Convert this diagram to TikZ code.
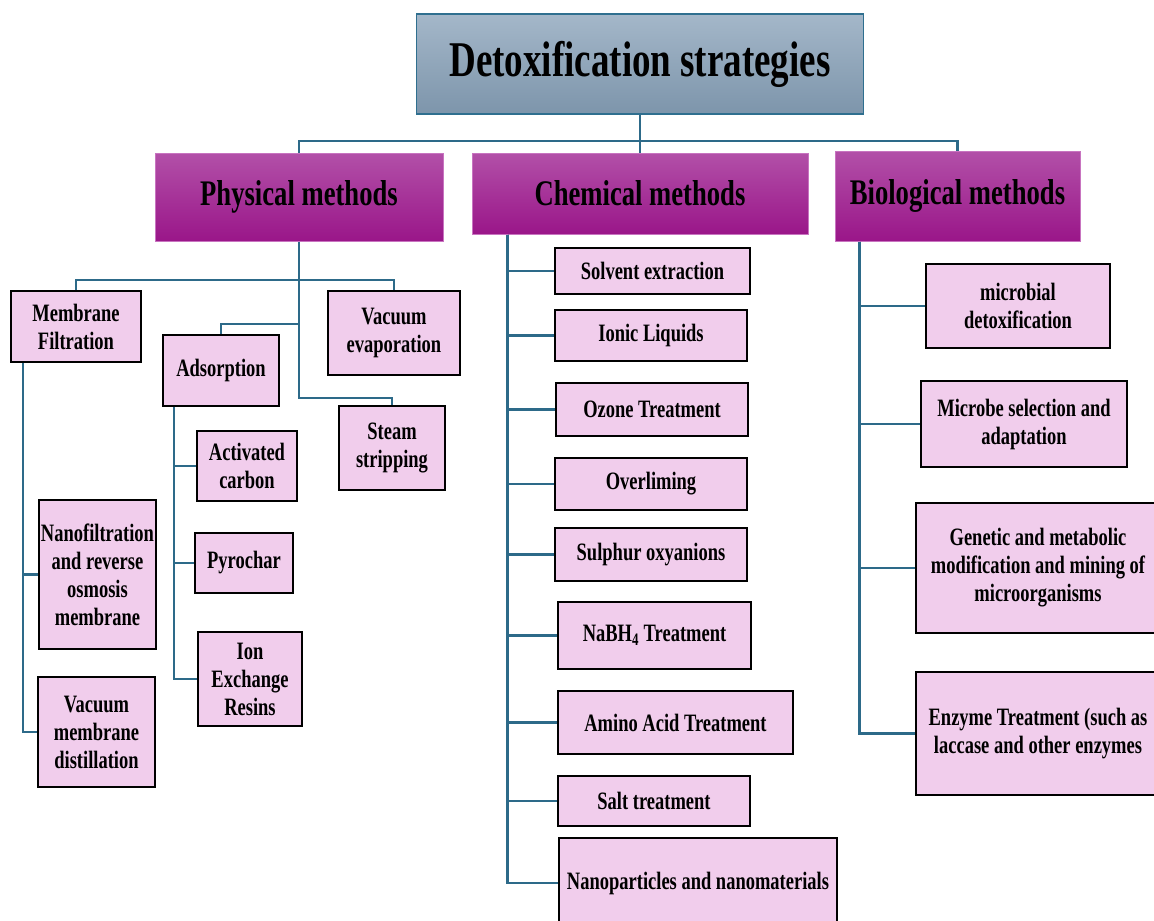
\documentclass[tikz,border=0pt]{standalone}
\usepackage{fontspec}
\setmainfont{Liberation Serif}[FakeStretch=0.74]
\definecolor{titletop}{HTML}{A4B7C9}
\definecolor{titlebot}{HTML}{7D95AB}
\definecolor{titleedge}{HTML}{2F6F8F}
\definecolor{headtop}{HTML}{B250A8}
\definecolor{headbot}{HTML}{9A1689}
\definecolor{headedge}{HTML}{C874C0}
\definecolor{itemfill}{HTML}{F1CDEC}
\definecolor{connblue}{HTML}{2D6A89}
\tikzset{
  conn/.style={draw=connblue, line width=2.6pt},
  boxsize/.style 2 args={minimum width=#1pt, minimum height=#2pt}
}
\begin{document}
\begin{tikzpicture}[x=1pt,y=-1pt]
  \useasboundingbox (0,0) rectangle (1154,921);
  \clip (0,0) rectangle (1154,921);

  % root
  \node[draw=titleedge, line width=1.3pt, top color=titletop, bottom color=titlebot,
        boxsize={447}{100}, font=\bfseries\fontsize{50}{56}\selectfont] (title) at (640,64) {Detoxification strategies};

  % method groups
  \begin{scope}[every node/.style={draw=headedge, line width=1pt, top color=headtop, bottom color=headbot,
                inner sep=0pt, font=\bfseries\fontsize{36}{40}\selectfont}]
    \node[boxsize={288}{88}] (phys) at (299,197)   {Physical methods};
    \node[boxsize={336}{81}] (chem) at (640,193.5) {Chemical methods};
    \node[boxsize={245}{90}] (bio)  at (957.5,196) {Biological methods};
  \end{scope}

  % individual techniques
  \begin{scope}[every node/.style={draw=black, line width=1.8pt, fill=itemfill, align=center,
                inner sep=0pt, font=\bfseries\fontsize{25}{28}\selectfont}]
    % physical
    \node[boxsize={130}{71}]  (memb)    at (76,326.5)  {Membrane\\Filtration};
    \node[boxsize={132}{84}]  (vacevap) at (394,333)   {Vacuum\\evaporation};
    \node[boxsize={116}{71}]  (ads)     at (221,370.5) {Adsorption};
    \node[boxsize={106}{84}]  (steam)   at (392,448)   {Steam\\stripping};
    \node[boxsize={100}{70}]  (actc)    at (247,466)   {Activated\\carbon};
    \node[boxsize={98}{60}]   (pyro)    at (244,563)   {Pyrochar};
    \node[boxsize={104}{94}]  (ionex)   at (250,679)   {Ion\\Exchange\\Resins};
    \node[boxsize={117}{149}] (nanof)   at (97.5,574.5) {Nanofiltration\\and reverse\\osmosis\\membrane};
    \node[boxsize={117}{110}] (vmd)     at (96.5,732)  {Vacuum\\membrane\\distillation};
    % chemical
    \node[boxsize={195}{46}]  (solv)  at (652.5,271)   {Solvent extraction};
    \node[boxsize={192}{51}]  (ionic) at (651,335.5)   {Ionic Liquids};
    \node[boxsize={192}{53}]  (ozone) at (652,409.5)   {Ozone Treatment};
    \node[boxsize={192}{52}]  (overl) at (651,484)     {Overliming};
    \node[boxsize={192}{53}]  (sulph) at (651,554.5)   {Sulphur oxyanions};
    \node[boxsize={193}{67}]  (nabh)  at (654.5,635.5) {NaBH\textsubscript{4} Treatment};
    \node[boxsize={235}{63}]  (amino) at (675.5,722.5) {Amino Acid Treatment};
    \node[boxsize={192}{50}]  (salt)  at (654,801)     {Salt treatment};
    \node[boxsize={278}{90}]  (nanop) at (698,883)     {Nanoparticles and nanomaterials};
    % biological
    \node[boxsize={184}{84}]  (micro) at (1018,306)    {microbial\\detoxification};
    \node[boxsize={206}{86}]  (msel)  at (1024,424)    {Microbe selection and\\adaptation};
    \node[boxsize={244}{130}] (genet) at (1038,568)    {Genetic and metabolic\\modification and mining of\\microorganisms};
    \node[boxsize={244}{123}] (enzy)  at (1038,733.5)  {Enzyme Treatment (such as\\laccase and other enzymes};
  \end{scope}

  % junctions
  \coordinate (topbus)   at (640,141);
  \coordinate (physbus)  at (299,280);
  \coordinate (adsbus)   at (299,324);
  \coordinate (steambus) at (299,398);
  \coordinate (membstem) at ([xshift=13pt]memb.south west);
  \coordinate (adsstem)  at ([xshift=12pt]ads.south west);
  \coordinate (chemstem) at ([xshift=36pt]chem.south west);
  \coordinate (biostem)  at ([xshift=25pt]bio.south west);

  % connectors
  \draw[conn] (title.south) -- (chem.north);
  \draw[conn] (phys.north) |- (topbus) -| (bio.north);

  \draw[conn] (phys.south) -- (physbus) -- (steambus) -| (steam.north);
  \draw[conn] (memb.north) |- (physbus) -| (vacevap.north);
  \draw[conn] (adsbus) -| (ads.north);

  \foreach \n in {nanof,vmd}
    \draw[conn] (membstem) |- (\n.west);
  \foreach \n in {actc,pyro,ionex}
    \draw[conn] (adsstem) |- (\n.west);
  \foreach \n in {solv,ionic,ozone,overl,sulph,nabh,amino,salt,nanop}
    \draw[conn] (chemstem) |- (\n.west);
  \foreach \n in {micro,msel,genet,enzy}
    \draw[conn] (biostem) |- (\n.west);

\end{tikzpicture}
\end{document}
